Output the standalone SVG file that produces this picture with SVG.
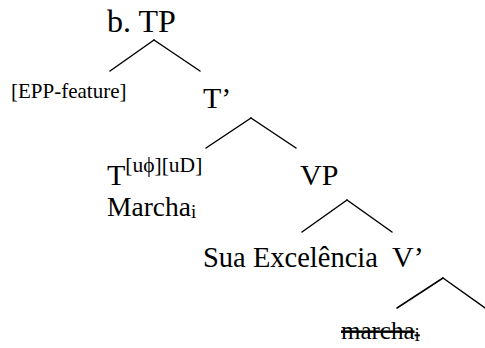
<svg xmlns="http://www.w3.org/2000/svg" width="485" height="348" viewBox="0 0 485 348">
<style>
text{font-family:"Liberation Serif","Times New Roman",serif;fill:#000}
.m{font-size:30px}
.t{font-size:32px}
.k{font-size:28.5px}
.r{font-size:27.5px}
.w{font-size:25px}
.s{font-size:21.5px}
.i{font-size:19px}
.e{font-size:21px}
line{stroke:#000;stroke-width:1.5;stroke-linecap:round}
</style>
<rect width="485" height="348" fill="#fff"/>
<g id="connectors">
<line x1="110" y1="71" x2="154" y2="40"/><line x1="154" y1="40" x2="200" y2="71"/>
<line x1="206" y1="148" x2="251" y2="118"/><line x1="251" y1="118" x2="296" y2="148"/>
<line x1="302" y1="232" x2="347" y2="200"/><line x1="347" y1="200" x2="392" y2="232"/>
<line x1="397" y1="308" x2="443" y2="278"/><line x1="443" y1="278" x2="485" y2="308"/>
</g>
<g id="TP"><text class="t" x="107" y="32">b. TP</text></g>
<g id="EPP"><text class="e" x="11" y="98">[EPP-feature]</text></g>
<g id="Tbar"><text class="m" x="203" y="108">T’</text></g>
<g id="T"><text class="m" x="107" y="185">T<tspan class="s" dy="-13">[uϕ][uD]</tspan></text>
<text class="r" x="107" y="216">Marcha<tspan class="i" dy="2">i</tspan></text></g>
<g id="VP"><text class="m" x="300" y="185">VP</text></g>
<g id="Spec"><text class="k" x="203" y="267">Sua Excelência</text></g>
<g id="Vbar"><text class="m" x="392" y="267">V’</text></g>
<g id="V"><text class="w" x="341" y="339" text-decoration="line-through">marcha<tspan class="i" dy="2">i</tspan></text></g>
</svg>
